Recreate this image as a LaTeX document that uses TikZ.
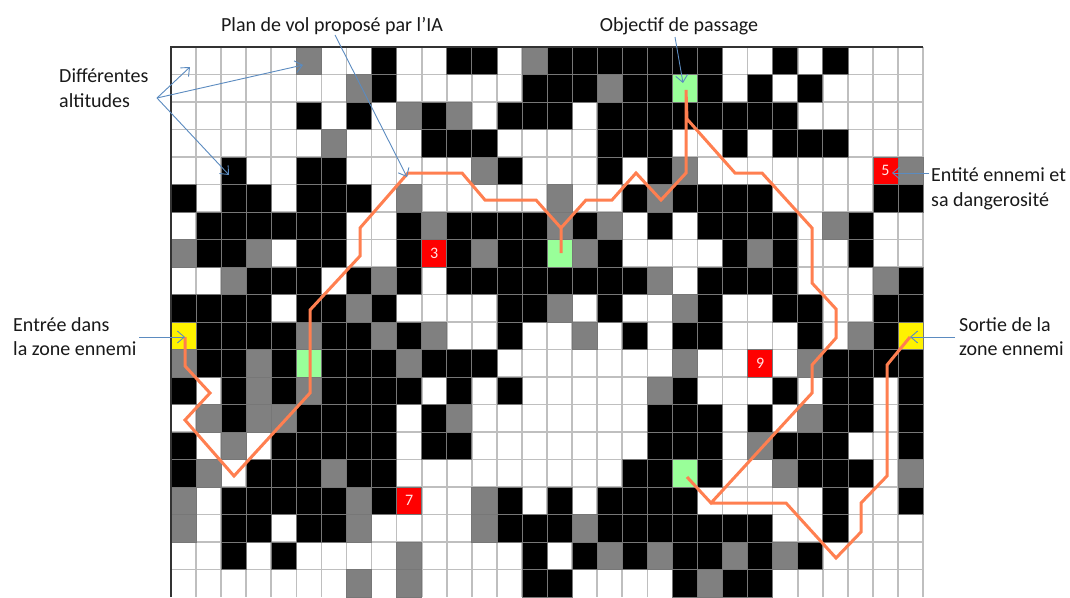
\documentclass[tikz,border=0pt]{standalone}
\usepackage{fontspec}
\setmainfont{Carlito}
\usetikzlibrary{arrows.meta}
\definecolor{gridgray}{HTML}{BFBFBF}
\definecolor{edgegray}{HTML}{777777}
\definecolor{midgray}{HTML}{808080}
\definecolor{passgreen}{HTML}{99FF99}
\definecolor{pathorange}{HTML}{FF7F50}
\definecolor{callout}{HTML}{5B8BC0}
\tikzset{
  cellbox/.style={draw=edgegray,line width=0.8pt},
  label/.style={align=left,anchor=north west,inner sep=0pt,font=\fontsize{20}{24.5}\selectfont,text=black!90},
  toplabel/.style={anchor=center,inner sep=0pt,font=\fontsize{20}{24.5}\selectfont,text=black!90},
  callarrow/.style={draw=callout,line width=0.9pt,-{Straight Barb[length=7pt,width=12pt]}},
  flight/.style={draw=pathorange,line width=3pt,line join=miter,line cap=butt},
  dangernum/.style={text=white!90!red,inner sep=0pt,font=\fontsize{16}{16}\selectfont}
}
\newcount\cx
\newcount\cy
\newcommand\sq[1]{\path[cellbox,fill=#1] (171+25.07*\the\cx,47+27.5*\the\cy) rectangle ++(25.07,27.5);}
\newcommand\rednum[1]{\sq{red}\node[dangernum] (danger#1) at (171+25.07*\the\cx+12.5,47+27.5*\the\cy+13.75) {#1};}
\expandafter\def\csname cellw\endcsname{}
\expandafter\def\csname cellk\endcsname{\sq{black}}
\expandafter\def\csname cellg\endcsname{\sq{midgray}}
\expandafter\def\csname celll\endcsname{\sq{passgreen}}
\expandafter\def\csname celly\endcsname{\sq{yellow}}
\expandafter\def\csname cell3\endcsname{\rednum{3}}
\expandafter\def\csname cell5\endcsname{\rednum{5}}
\expandafter\def\csname cell7\endcsname{\rednum{7}}
\expandafter\def\csname cell9\endcsname{\rednum{9}}
\def\gridrow#1{\cx=0 \gridnext#1\relax \advance\cy by 1 }
\def\gridnext#1{\ifx#1\relax\else\csname cell#1\endcsname\advance\cx by 1 \expandafter\gridnext\fi}
\begin{document}
\begin{tikzpicture}[x=1pt,y=-1pt]
\useasboundingbox (0,0) rectangle (1070,597);
\begin{scope}
\clip (0,0) rectangle (1070,597);
\fill[white] (0,0) rectangle (1070,597);
% light grid
\foreach \i in {0,...,30} \draw[gridgray,line width=1.6pt] (171+25.07*\i,47) -- (171+25.07*\i,597);
\foreach \j in {0,...,19} \draw[gridgray,line width=1.6pt] (171,47+27.5*\j) -- (923,47+27.5*\j);
% cells
\cy=0
\gridrow{wwwwwgwwkwwkkwgkkkkkkkwwkwkwww}
\gridrow{wwwwwwwgkwwwwwkkkgkklkwkwkwwww}
\gridrow{wwwwwkwkwgkgwkkkwkkkkkkkkwwwww}
\gridrow{wwwwwwgwwwkkkwwwwkkkwwkwkkkwww}
\gridrow{wwkwwkkwwwwwgkwwwkwkgwwwwwww5g}
\gridrow{kwkkwkkkwgwwwwwgwwkgkkkkwwwwkk}
\gridrow{wkkkkkkwwkgkkkkgkgwkwkkkkwgkww}
\gridrow{gkkgwkkwwk3kgkklgkwwwwkgkwwkww}
\gridrow{wwgkkkwkgkwkkkkkkkkgwkkkkwwwgk}
\gridrow{kkkkwkkgkwwwwkkgwkwwgkwwkkwwkk}
\gridrow{ykkkkgkkgkgwwkwwgwkwkkwwwkwgky}
\gridrow{gkkgklkkkgkkkwwwwwwwgww9wgkkkk}
\gridrow{kwkgkgkkkkwkwkwwwwwgkwwwkwkkwk}
\gridrow{wgkggkkkkwkgwwwwwwwkkkwkwgkkwk}
\gridrow{kwgwkkkkkwkkwwwwwwwkkkwgkkkwwk}
\gridrow{kgwkkkgkkwwwwwwwwwkklkwwgkkkwg}
\gridrow{gwkkkkkgk7wwgkwkwkkkkwwwwwkwwk}
\gridrow{gwkkwkkgwwwwgkkkgkkkkkkkwwkwww}
\gridrow{wwkwkwwwwgwwwwkwkgkgkkgkgkwwww}
\gridrow{wwwwwwwgwgwwwwkkwwwwkgkkwwwwww}
% frame
\draw[black!80,line width=1.6pt] (171,597) -- (171,47) -- (923,47);
% flight plan
\coordinate (fork) at (561,228);
\coordinate (goalB) at (561,253);
\coordinate (goalA) at (686,90);
\coordinate (goalC) at (687,477);
\draw[flight] (185,337) -- (185,366) -- (210,393) -- (185,420) -- (234,476) -- (310,393)
  -- (310,310) -- (360,256) -- (360,228) -- (408,173) -- (462,173) -- (485,200) -- (536,200)
  -- (fork) -- (goalB) -- (fork) -- (586,200) -- (612,200) -- (636,173) -- (661,200)
  -- (686,173) -- (goalA) -- (687,119) -- (735,173) -- (762,173) -- (812,228) -- (812,283)
  -- (836,309) -- (836,338) -- (812,365) -- (812,393) -- (711,503) -- (goalC) -- (711,503)
  -- (786,503) -- (836,558) -- (861,532) -- (861,503) -- (887,476) -- (887,365) -- (910,337);
\end{scope}
% labels
\node[toplabel] (plan) at (332,26) {Plan de vol proposé par l’IA};
\node[toplabel] (objectif) at (679,26) {Objectif de passage};
\node[label] (alt) at (59,68.5) {Différentes\\altitudes};
\node[label] (entite) at (931,167.5) {Entité ennemi et\\sa dangerosité};
\node[label] (entree) at (13,317) {Entrée dans\\la zone ennemi};
\node[label] (sortie) at (959,317) {Sortie de la\\zone ennemi};
% callouts
\coordinate (altsrc) at (157,98);
\coordinate (alt1) at (190,67);
\coordinate (alt2) at (303,65);
\coordinate (alt3) at (229,175);
\coordinate (plansrc) at (335,35);
\coordinate (plantip) at (407,177);
\coordinate (objsrc) at (675,37);
\coordinate (objtip) at (683,83);
\coordinate (entsrc) at (929,173);
\coordinate (enttip) at (892,173);
\coordinate (insrc) at (139,337);
\coordinate (intip) at (185,337);
\coordinate (outsrc) at (955,337);
\coordinate (outtip) at (910,337);
\draw[callarrow] (altsrc) -- (alt1);
\draw[callarrow] (altsrc) -- (alt2);
\draw[callarrow] (altsrc) -- (alt3);
\draw[callarrow] (plansrc) -- (plantip);
\draw[callarrow] (objsrc) -- (objtip);
\draw[callarrow] (entsrc) -- (enttip);
\draw[callarrow] (insrc) -- (intip);
\draw[callarrow] (outsrc) -- (outtip);
\end{tikzpicture}
\end{document}
